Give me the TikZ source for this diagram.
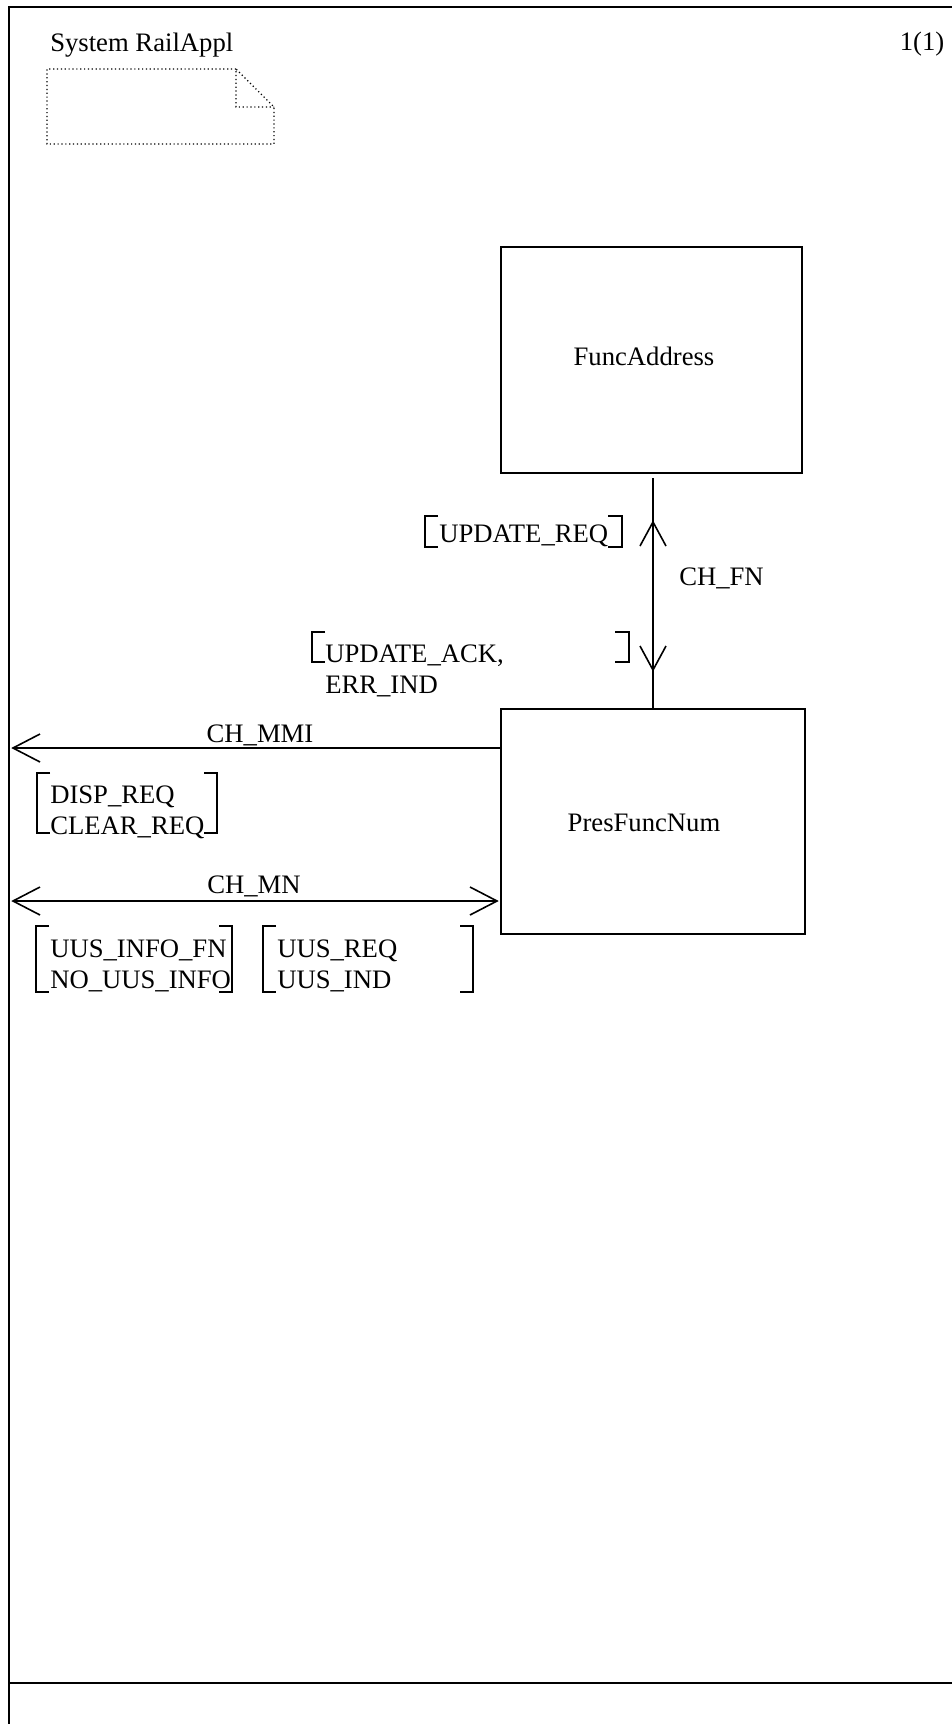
\documentclass[tikz,border=0pt]{standalone}
\usepackage{fontspec}
\setmainfont{Liberation Serif}
\usetikzlibrary{arrows.meta}
\tikzset{
  frameline/.style={line width=1.6pt},
  boxstyle/.style={draw, line width=1.2pt, inner sep=0pt},
  chline/.style={line width=1.2pt},
  barb/.style={line width=1.2pt},
  brk/.style={line width=1.2pt},
  txt/.style={inner sep=0pt, font=\fontsize{20}{23}\selectfont, align=left},
  notestyle/.style={line width=0.9pt, dotted},
}
\begin{document}
\begin{tikzpicture}[x=0.75pt, y=-0.75pt]
\useasboundingbox (0,0) rectangle (952,1724);
% frame
\coordinate (ftl) at (9,7);
\coordinate (ftr) at (960,7);
\coordinate (fbl) at (9,1730);
\coordinate (fml) at (9,1683);
\coordinate (fmr) at (960,1683);
\draw[frameline] (ftr) -- (ftl) -- (fbl);
\draw[frameline] (fml) -- (fmr);
% header
\node[txt, anchor=west] (title) at (50,45) {System RailAppl};
\node[txt] (page) at (922,44) {1(1)};
% note symbol
\draw[notestyle] (236,69) -- (47,69) -- (47,144) -- (274,144) -- (274,107) -- (236,69) -- (236,107) -- (274,107);
% blocks
\node[boxstyle, minimum width=225.75pt, minimum height=169.5pt] (fa) at (651.5,360) {};
\node[txt] (faText) at (644,356) {FuncAddress};
\node[boxstyle, minimum width=228pt, minimum height=168.75pt] (pfn) at (653,821.5) {};
\node[txt] (pfnText) at (644,823) {PresFuncNum};
% CH_FN
\coordinate (fntop) at (653,478);
\coordinate (fnbot) at (653,709);
\draw[chline] (fntop) -- (fnbot);
\coordinate (upTip) at (653,522);
\coordinate (dnTip) at (653,670);
\draw[barb] ([shift={(-13,24)}]upTip) -- (upTip) -- ([shift={(13,24)}]upTip);
\draw[barb] ([shift={(-13,-24)}]dnTip) -- (dnTip) -- ([shift={(13,-24)}]dnTip);
\node[txt, anchor=west] (chfn) at (679,578) {CH\_FN};
% UPDATE_REQ
\node[txt, anchor=west] (ureq) at (439,536) {UPDATE\_REQ};
\draw[brk] (438,516) -- (425,516) -- (425,547) -- (438,547);
\draw[brk] (608,516) -- (622,516) -- (622,547) -- (608,547);
% UPDATE_ACK, ERR_IND
\node[txt, anchor=west] (uack) at (325,671) {UPDATE\_ACK,\\ERR\_IND};
\draw[brk] (325,632) -- (312,632) -- (312,662) -- (325,662);
\draw[brk] (615,632) -- (629,632) -- (629,662) -- (615,662);
% CH_MMI
\coordinate (mmiEnd) at (13,748);
\draw[chline] (pfn.west |- mmiEnd) -- (mmiEnd);
\draw[barb] ([shift={(27,-14)}]mmiEnd) -- (mmiEnd) -- ([shift={(27,14)}]mmiEnd);
\node[txt] (chmmi) at (260,735) {CH\_MMI};
% DISP_REQ / CLEAR_REQ
\node[txt, anchor=west] (disp) at (50,812) {DISP\_REQ\\CLEAR\_REQ};
\draw[brk] (50,773) -- (37,773) -- (37,833) -- (50,833);
\draw[brk] (204,773) -- (217,773) -- (217,833) -- (204,833);
% CH_MN
\coordinate (mnL) at (13,901);
\coordinate (mnR) at (497,901);
\draw[chline] (mnL) -- (mnR);
\draw[barb] ([shift={(27,-14)}]mnL) -- (mnL) -- ([shift={(27,14)}]mnL);
\draw[barb] ([shift={(-27,-14)}]mnR) -- (mnR) -- ([shift={(-27,14)}]mnR);
\node[txt] (chmn) at (254,886) {CH\_MN};
% UUS_INFO_FN / NO_UUS_INFO
\node[txt, anchor=west] (uusinfo) at (50,966) {UUS\_INFO\_FN\\NO\_UUS\_INFO};
\draw[brk] (49,926) -- (36,926) -- (36,992) -- (49,992);
\draw[brk] (219,926) -- (232,926) -- (232,992) -- (219,992);
% UUS_REQ / UUS_IND
\node[txt, anchor=west] (uusreq) at (277,966) {UUS\_REQ\\UUS\_IND};
\draw[brk] (276,926) -- (263,926) -- (263,992) -- (276,992);
\draw[brk] (460,926) -- (473,926) -- (473,992) -- (460,992);
\end{tikzpicture}
\end{document}
